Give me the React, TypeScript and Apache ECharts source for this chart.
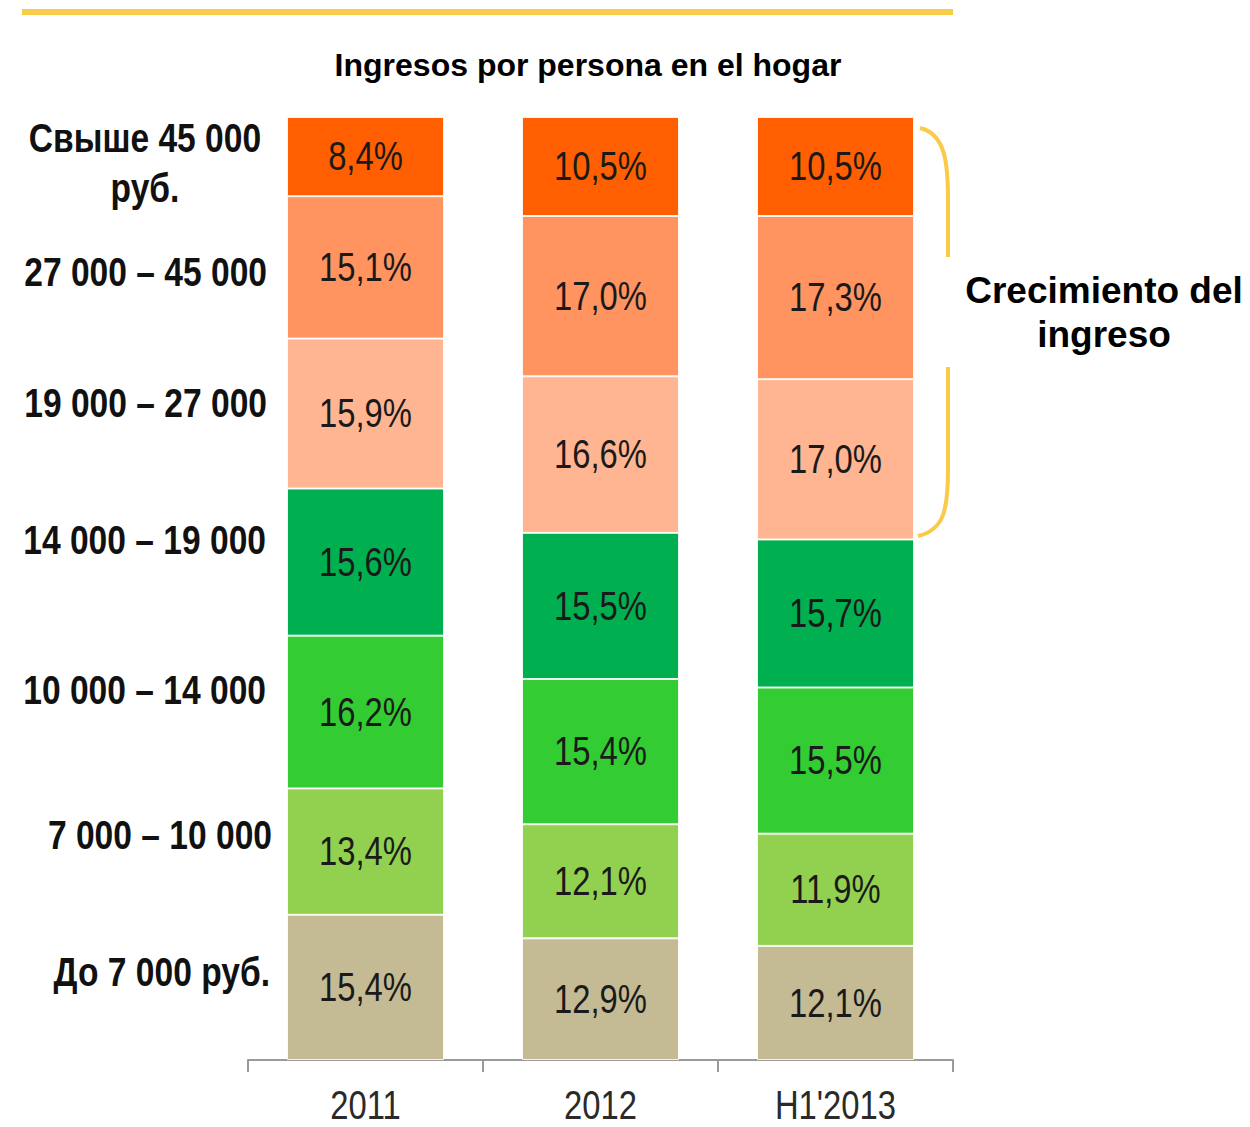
import React, { useEffect, useRef } from "react";
import * as echarts from "echarts";

const categories = ["2011", "2012", "H1'2013"];
const bandNames = [
  "До 7 000 руб.",
  "7 000 – 10 000",
  "10 000 – 14 000",
  "14 000 – 19 000",
  "19 000 – 27 000",
  "27 000 – 45 000",
  "Свыше 45 000\nруб.",
];
const upTo7000 = [15.4, 12.9, 12.1];
const from7000 = [13.4, 12.1, 11.9];
const from10000 = [16.2, 15.4, 15.5];
const from14000 = [15.6, 15.5, 15.7];
const from19000 = [15.9, 16.6, 17.0];
const from27000 = [15.1, 17.0, 17.3];
const above45000 = [8.4, 10.5, 10.5];

const seriesValues = [upTo7000, from7000, from10000, from14000, from19000, from27000, above45000];
const bandColors = ["#C4BA94", "#92D050", "#33CC33", "#00B050", "#FFB591", "#FF9460", "#FF5F00"];

const SANS = "'Liberation Sans', Arial, Helvetica, sans-serif";
const NARROW_SCALE = 0.82;

// layout of left-hand band labels (index matches bandNames)
const leftLabelLayout = [
  { x: 270, y: 972, align: "right" },
  { x: 272, y: 835, align: "right" },
  { x: 266, y: 690, align: "right" },
  { x: 266, y: 540, align: "right" },
  { x: 267, y: 403, align: "right" },
  { x: 267, y: 272, align: "right" },
  { x: 145, y: 163, align: "center" },
];

const fmtPct = (v: number) => v.toFixed(1).replace(".", ",") + "%";

export default function App() {
  const ref = useRef<HTMLDivElement>(null);
  useEffect(() => {
    document.body.style.margin = "0";
    const chart = echarts.init(ref.current!, null, { renderer: "svg" });
    const yellow = "#F9CB48";
    const option: any = {
      animation: false,
      backgroundColor: "#ffffff",
      grid: { left: 248, right: 297, top: 117, bottom: 67, containLabel: false },
      xAxis: {
        type: "category",
        data: categories,
        boundaryGap: true,
        axisLine: { show: true, lineStyle: { color: "#9a9a9a", width: 2 } },
        axisTick: { show: true, length: 12, lineStyle: { color: "#9a9a9a", width: 2 } },
        axisLabel: { show: false },
      },
      yAxis: { type: "value", min: 0, max: 100, show: false, splitLine: { show: false } },
      series: [
        ...seriesValues.map((vals, i) => ({
          name: bandNames[i],
          type: "bar",
          stack: "total",
          barWidth: 157,
          data: vals,
          itemStyle: {
            color: bandColors[i],
            borderColor: "rgba(255,255,255,0.85)",
            borderWidth: 1,
          },
          label: { show: false },
        })),
        {
          type: "custom",
          name: "labels",
          z: 5,
          clip: false,
          data: categories.map((_, i) => [i]),
          renderItem: (params: any, api: any) => {
            const i = api.value(0);
            const children: any[] = [];
            let cum = 0;
            for (let b = 0; b < seriesValues.length; b++) {
              const v = seriesValues[b][i];
              const pt = api.coord([i, cum + v / 2]);
              cum += v;
              children.push({
                type: "text",
                x: pt[0],
                y: pt[1],
                scaleX: NARROW_SCALE,
                style: {
                  text: fmtPct(v),
                  fontFamily: SANS,
                  fontSize: 40,
                  fill: "#1a1a1a",
                  align: "center",
                  verticalAlign: "middle",
                },
              });
            }
            const base = api.coord([i, 0]);
            children.push({
              type: "text",
              x: base[0],
              y: base[1] + 45,
              scaleX: NARROW_SCALE,
              style: {
                text: categories[i],
                fontFamily: SANS,
                fontSize: 40,
                fill: "#2a2a2a",
                align: "center",
                verticalAlign: "middle",
              },
            });
            return { type: "group", children };
          },
        },
      ],
      graphic: [
        { type: "rect", shape: { x: 22, y: 9, width: 931, height: 6 }, style: { fill: yellow } },
        {
          type: "text",
          x: 588,
          y: 65,
          style: {
            text: "Ingresos por persona en el hogar",
            font: `bold 32px ${SANS}`,
            fill: "#000",
            textAlign: "center",
            textVerticalAlign: "middle",
          },
        },
        ...bandNames.map((name, i) => ({
          type: "text",
          x: leftLabelLayout[i].x,
          y: leftLabelLayout[i].y,
          scaleX: 0.84,
          style: {
            text: name,
            font: `bold 40px ${SANS}`,
            fill: "#111",
            textAlign: leftLabelLayout[i].align,
            textVerticalAlign: "middle",
            lineHeight: 50,
          },
        })),
        {
          type: "bezierCurve",
          shape: { x1: 920, y1: 128, cpx1: 946, cpy1: 134, cpx2: 948, cpy2: 165, x2: 948, y2: 200 },
          style: { stroke: yellow, lineWidth: 4, fill: "none" },
        },
        { type: "line", shape: { x1: 948, y1: 199, x2: 948, y2: 257 }, style: { stroke: yellow, lineWidth: 4 } },
        { type: "line", shape: { x1: 948, y1: 367, x2: 948, y2: 470 }, style: { stroke: yellow, lineWidth: 4 } },
        {
          type: "bezierCurve",
          shape: { x1: 948, y1: 469, cpx1: 948, cpy1: 510, cpx2: 944, cpy2: 530, x2: 918, y2: 536 },
          style: { stroke: yellow, lineWidth: 4, fill: "none" },
        },
        {
          type: "text",
          x: 1104,
          y: 312,
          style: {
            text: "Crecimiento del\ningreso",
            font: `bold 37px ${SANS}`,
            fill: "#000",
            textAlign: "center",
            textVerticalAlign: "middle",
            lineHeight: 44,
          },
        },
      ],
    };
    chart.setOption(option);
    return () => chart.dispose();
  }, []);
  return <div ref={ref} style={{ width: 1250, height: 1127, position: "absolute", left: 0, top: 0 }} />;
}
